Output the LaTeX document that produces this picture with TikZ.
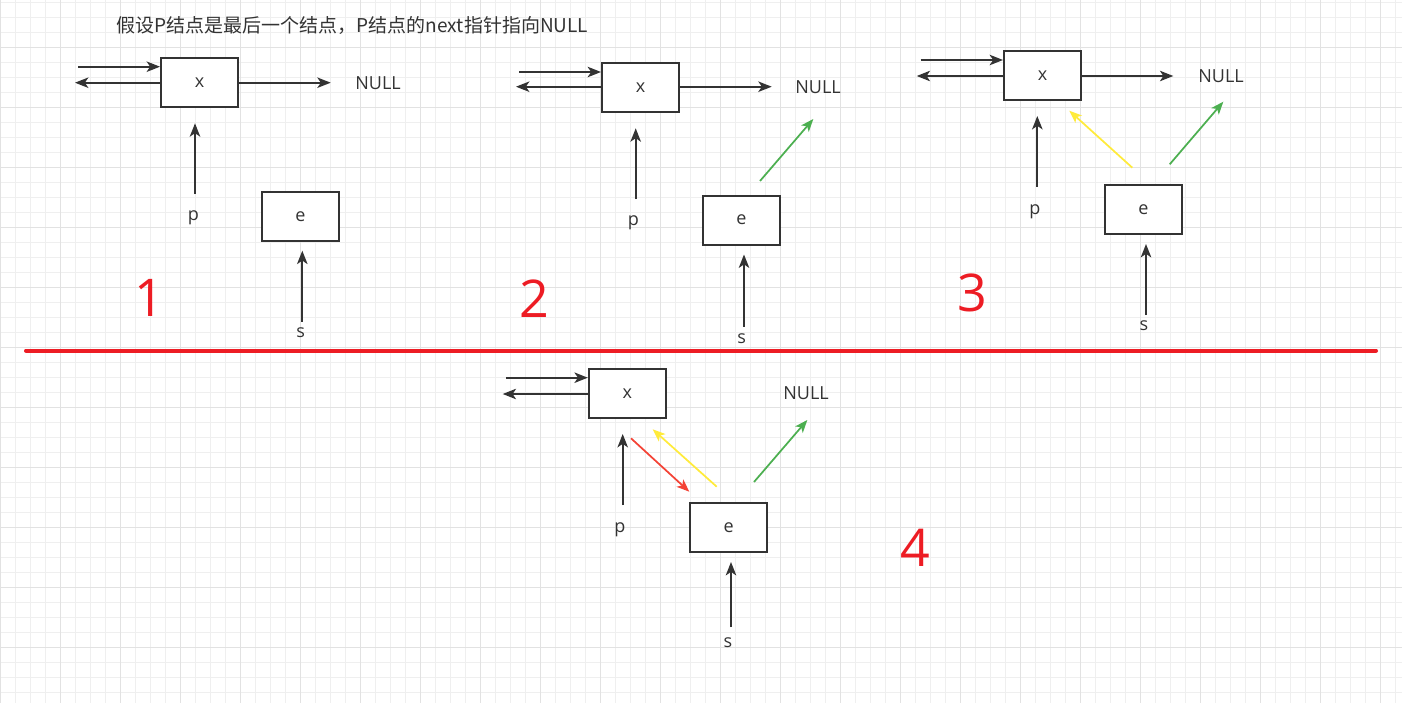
\documentclass[tikz,border=0pt]{standalone}
\usepackage{fontspec}
\setmainfont{Open Sans}
\newfontfamily\cjk{Noto Sans CJK SC}
\usetikzlibrary{arrows.meta}
\definecolor{ink}{HTML}{333333}
\definecolor{gminor}{HTML}{EFEFEF}
\definecolor{gmajor}{HTML}{E2E2E2}
\definecolor{pgreen}{HTML}{4CAF50}
\definecolor{pyellow}{HTML}{FFEB3B}
\definecolor{pred}{HTML}{F44336}
\definecolor{bigred}{HTML}{ED1C24}
\tikzset{
  box/.style={draw=ink, line width=1.5pt, fill=white, minimum width=57.75pt, minimum height=36.75pt, inner sep=0pt, font=\fontsize{13.5pt}{16pt}\selectfont, text=ink},
  lbl/.style={inner sep=0pt, font=\fontsize{13.5pt}{16pt}\selectfont, text=ink},
  nulllbl/.style={inner sep=0pt, font=\fontsize{13.5pt}{16pt}\selectfont, text=ink},
  num/.style={inner sep=0pt, font=\fontsize{39pt}{44pt}\selectfont, text=bigred},
  titlelbl/.style={inner sep=0pt, font=\cjk\fontsize{14.25pt}{17pt}\selectfont, text=ink},
  arr/.style={draw=ink, line width=1.5pt, -{Stealth[length=10pt, width=7.8pt, inset=2.6pt]}},
  carr/.style={line width=1.3pt, -{Stealth[length=9.5pt, width=7.4pt, inset=2.4pt]}},
  gridminor/.style={draw=gminor, line width=0.75pt},
  gridmajor/.style={draw=gmajor, line width=0.75pt}
}
\begin{document}
\begin{tikzpicture}[x=0.75pt,y=-0.75pt]
\useasboundingbox (0,0) rectangle (1402,703);
\fill[white] (0,0) rectangle (1402,703);
% grid
\foreach \gx in {0,15,...,1395} \draw[gridminor] (\gx,0) -- (\gx,703);
\foreach \gy in {2.3,17.3,...,700} \draw[gridminor] (0,\gy) -- (1402,\gy);
\foreach \gx in {0,60,...,1380} \draw[gridmajor] (\gx,0) -- (\gx,703);
\foreach \gy in {47.3,107.3,...,700} \draw[gridmajor] (0,\gy) -- (1402,\gy);

% title
\node[titlelbl] (title) at (352.5,25) {假设P结点是最后一个结点，P结点的next指针指向NULL};

% ---------- panel 1 ----------
\node[box] (x1) at (199.5,82.3) {x};
\node[nulllbl] (n1) at (378,82.7) {NULL};
\node[box] (e1) at (300.5,216.5) {e};
\node[lbl] (p1) at (193.3,217.7) {p};
\node[lbl] (s1) at (300.7,333) {s};
\node[num] (d1) at (149.3,297.7) {1};
\coordinate (x1a) at (78.3,66.7);
\coordinate (x1b) at (75,82.7);
\coordinate (x1c) at (330.7,82.7);
\coordinate (p1a) at (195,194);
\coordinate (p1b) at (195,123.3);
\coordinate (s1a) at (302.3,321.7);
\coordinate (s1b) at (302.3,250.7);
\draw[arr] (x1a) -- (x1a -| x1.west);
\draw[arr] (x1b -| x1.west) -- (x1b);
\draw[arr] (x1c -| x1.east) -- (x1c);
\draw[arr] (p1a) -- (p1b);
\draw[arr] (s1a) -- (s1b);

% ---------- panel 2 ----------
\node[box] (x2) at (640.5,87.3) {x};
\node[nulllbl] (n2) at (818,86.7) {NULL};
\node[box] (e2) at (741.5,220) {e};
\node[lbl] (p2) at (633.3,222.7) {p};
\node[lbl] (s2) at (741.7,338.3) {s};
\node[num] (d2) at (534.3,298.3) {2};
\coordinate (x2a) at (519.3,72);
\coordinate (x2b) at (516,86.7);
\coordinate (x2c) at (771.7,86.7);
\coordinate (p2a) at (635.7,199);
\coordinate (p2b) at (635.7,128.3);
\coordinate (s2a) at (744,326.7);
\coordinate (s2b) at (744,254.5);
\coordinate (g2a) at (760,181);
\coordinate (g2b) at (813.3,119);
\draw[arr] (x2a) -- (x2a -| x2.west);
\draw[arr] (x2b -| x2.west) -- (x2b);
\draw[arr] (x2c -| x2.east) -- (x2c);
\draw[arr] (p2a) -- (p2b);
\draw[arr] (s2a) -- (s2b);
\draw[carr, pgreen] (g2a) -- (g2b);

% ---------- panel 3 ----------
\node[box] (x3) at (1042.5,75.5) {x};
\node[nulllbl] (n3) at (1221,76) {NULL};
\node[box] (e3) at (1143.5,209.5) {e};
\node[lbl] (p3) at (1035,211.7) {p};
\node[lbl] (s3) at (1144,326) {s};
\node[num] (d3) at (972.7,293.3) {3};
\coordinate (x3a) at (920.7,60);
\coordinate (x3b) at (916.7,76);
\coordinate (x3c) at (1173.3,76);
\coordinate (p3a) at (1037.3,186.7);
\coordinate (p3b) at (1037.3,116);
\coordinate (s3a) at (1146,315);
\coordinate (s3b) at (1146,244);
\coordinate (y3a) at (1132.3,167.7);
\coordinate (y3b) at (1069.3,110.7);
\coordinate (g3a) at (1169.7,164.3);
\coordinate (g3b) at (1223.3,101.7);
\draw[arr] (x3a) -- (x3a -| x3.west);
\draw[arr] (x3b -| x3.west) -- (x3b);
\draw[arr] (x3c -| x3.east) -- (x3c);
\draw[arr] (p3a) -- (p3b);
\draw[arr] (s3a) -- (s3b);
\draw[carr, pyellow] (y3a) -- (y3b);
\draw[carr, pgreen] (g3a) -- (g3b);

% ---------- panel 4 ----------
\node[box] (x4) at (627.3,393.5) {x};
\node[nulllbl] (n4) at (806,393) {NULL};
\node[box] (e4) at (728.7,527.5) {e};
\node[lbl] (p4) at (620,530) {p};
\node[lbl] (s4) at (728,643) {s};
\node[num] (d4) at (915,548.3) {4};
\coordinate (x4a) at (506,377.7);
\coordinate (x4b) at (502.7,394);
\coordinate (p4a) at (622.7,505);
\coordinate (p4b) at (622.7,434);
\coordinate (s4a) at (731,627);
\coordinate (s4b) at (731,562);
\coordinate (r4a) at (631,438.3);
\coordinate (r4b) at (689.3,491.7);
\coordinate (y4a) at (716.7,486.7);
\coordinate (y4b) at (652.7,429.3);
\coordinate (g4a) at (754,482);
\coordinate (g4b) at (807.3,420);
\draw[arr] (x4a) -- (x4a -| x4.west);
\draw[arr] (x4b -| x4.west) -- (x4b);
\draw[arr] (p4a) -- (p4b);
\draw[arr] (s4a) -- (s4b);
\draw[carr, pred] (r4a) -- (r4b);
\draw[carr, pyellow] (y4a) -- (y4b);
\draw[carr, pgreen] (g4a) -- (g4b);

% divider
\coordinate (divL) at (26,350.5);
\coordinate (divR) at (1376,350.5);
\draw[bigred, line width=3pt, line cap=round] (divL) -- (divR);
\end{tikzpicture}
\end{document}
